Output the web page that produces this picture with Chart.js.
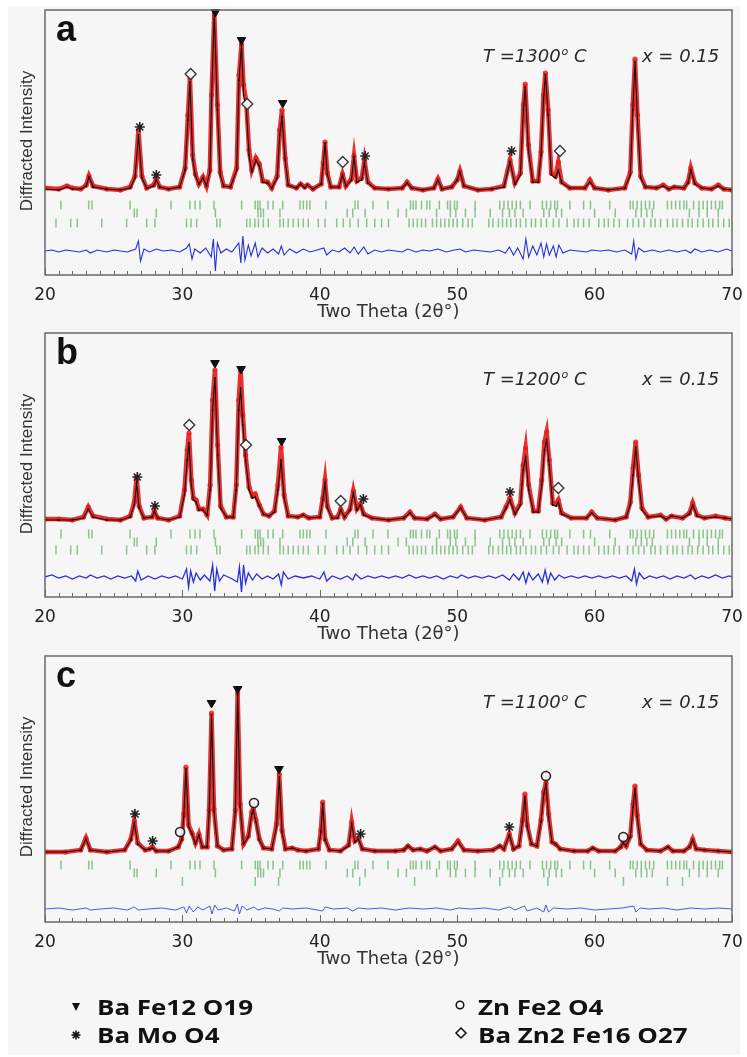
<!DOCTYPE html>
<html>
<head>
<meta charset="utf-8">
<script src="https://cdn.jsdelivr.net/npm/chart.js@4.4.1/dist/chart.umd.min.js"></script>
<style>
  body { margin: 0; background: #fff; width: 747px; height: 1057px; position: relative; overflow: hidden; }
  #bg { position: absolute; left: 8px; top: 6px; width: 732px; height: 1049px; background: #f6f6f6; }
  canvas { position: absolute; left: 0; }
</style>
</head>
<body>
<div id="bg"></div>
<canvas id="panelA" width="747" height="330" style="top:0px"></canvas>
<canvas id="panelB" width="747" height="330" style="top:322px"></canvas>
<canvas id="panelC" width="747" height="412" style="top:645px"></canvas>
<script>
// ---- panel a : T = 1300 C ----
const thetaA = [20.0,21.0,21.6,22.0,22.6,23.0,23.2,23.5,24.5,25.5,
  26.2,26.55,26.8,27.05,27.4,27.9,28.1,28.35,29.0,29.8,
  30.2,30.4,30.55,30.75,30.95,31.2,31.5,31.75,32.0,32.12,
  32.32,32.55,32.75,33.0,33.5,33.95,34.12,34.3,34.45,34.65,
  34.85,35.05,35.35,35.6,35.85,36.2,36.5,36.9,37.08,37.25,
  37.48,37.7,38.3,38.6,38.9,39.1,39.5,40.1,40.25,40.38,
  40.55,40.8,41.4,41.65,41.9,42.3,42.49,42.7,43.05,43.25,
  43.5,44.0,45.0,46.0,46.35,46.7,47.5,48.3,48.6,48.9,
  49.6,50.0,50.2,50.5,51.5,52.5,53.4,53.84,54.2,54.6,
  54.82,54.95,55.18,55.5,55.9,56.1,56.28,56.42,56.62,56.85,
  57.15,57.36,57.6,58.2,59.3,59.66,60.0,61.0,62.2,62.6,
  62.78,62.94,63.12,63.35,63.7,64.5,65.0,65.4,65.8,66.5,
  66.8,67.0,67.3,67.8,68.5,69.0,69.4,70.0];
const calcA = [1,0,3,1,1,4,13,3,1,0,
  2,12,55,12,2,4,10,3,1,3,
  20,70,108,30,14,6,12,4,18,90,
  177,80,15,4,3,20,110,145,95,82,
  35,18,30,24,8,7,2,12,55,73,
  30,5,2,6,2,5,1,6,25,47,
  15,3,3,15,4,10,33,8,10,27,
  7,2,1,2,7,2,0,2,10,1,
  3,10,18,4,0,1,3,28,6,15,
  80,103,40,8,8,35,90,115,75,15,
  12,20,7,2,2,8,2,0,2,15,
  80,128,70,12,3,2,4,1,3,2,
  7,20,6,2,1,4,1,0];
const obsA = [2,1,4,2,1,5,14,4,1,0,
  3,14,60,14,2,5,11,3,1,3,
  22,75,112,35,16,6,13,4,20,95,
  176,85,18,4,3,22,115,146,105,88,
  40,20,32,26,9,8,2,14,60,80,
  32,5,2,6,3,5,1,6,27,48,
  17,3,3,16,4,11,34,9,12,30,
  8,2,1,2,8,2,0,2,11,1,
  3,10,19,4,0,1,4,30,7,17,
  85,106,45,9,9,38,95,117,80,17,
  14,28,8,2,2,10,2,0,2,18,
  85,131,75,14,3,2,5,1,3,2,
  8,22,7,2,1,5,1,0];
const diffA = [[20,0],[20.5,1],[21,-1],[21.5,1],[22,0],[22.5,-1],[23,1],[23.3,-2],[23.8,1],[24.5,-1],[25,1],[25.5,0],[26,-1],
  [26.6,2],[26.8,10],[26.95,-10],[27.2,2],[27.6,-1],[28.1,2],[28.6,0],[29.2,1],[29.8,-1],[30.3,3],[30.5,7],[30.7,-8],[30.9,2],
  [31.3,-2],[31.7,3],[32.1,-6],[32.25,12],[32.4,-20],[32.55,8],[32.8,-2],[33.2,2],[33.6,-1],[34.1,8],[34.25,-12],[34.4,15],
  [34.55,-9],[34.8,6],[35.0,-5],[35.3,8],[35.5,-6],[35.8,3],[36.2,-2],[36.6,2],[37.0,-3],[37.2,5],[37.4,-4],[37.8,2],[38.3,-2],
  [38.8,2],[39.3,-1],[39.8,1],[40.3,3],[40.5,-4],[40.9,1],[41.4,-1],[41.8,3],[42.2,-2],[42.5,4],[42.8,-3],[43.2,4],[43.5,-3],
  [44,1],[44.5,-1],[45,1],[45.5,0],[46.0,-1],[46.4,2],[47,-1],[47.5,1],[48,0],[48.6,2],[49.2,-1],[49.8,1],[50.2,2],[50.6,-1],
  [51.2,1],[51.8,0],[52.4,-1],[53,1],[53.5,-2],[53.8,4],[54.1,-4],[54.4,3],[54.8,-8],[55.0,12],[55.2,-6],[55.5,5],[55.8,-4],
  [56.1,8],[56.3,-6],[56.5,7],[56.7,-4],[57.0,5],[57.2,-6],[57.4,6],[57.7,-2],[58.2,1],[58.8,0],[59.4,-1],[59.8,1],[60.4,0],
  [61,1],[61.6,-1],[62.2,1],[62.7,-3],[62.85,10],[63.0,-8],[63.2,3],[63.6,-1],[64.2,1],[64.8,-1],[65.4,1],[66,-1],[66.6,1],
  [67.0,-2],[67.3,2],[67.8,-1],[68.4,1],[69,-1],[69.6,2],[70,0]];
const hexPeaksA = [[32.4,178],[34.3,150],[37.3,87]];
const molyPeaksA = [[26.9,63],[28.1,15],[43.3,34],[53.96,39]];
const wPeaksA = [[30.6,116],[34.72,86],[41.67,28],[57.48,39]];

// ---- panel b : T = 1200 C ----
const thetaB = [20.0,21.0,22.0,22.8,23.15,23.5,24.5,25.5,26.2,26.5,
  26.67,26.85,27.2,27.8,27.96,28.2,29.0,29.8,30.15,30.35,
  30.48,30.65,30.8,31.0,31.2,31.5,31.8,32.02,32.2,32.37,
  32.57,32.78,33.2,33.7,33.92,34.1,34.24,34.4,34.6,34.85,
  35.1,35.3,35.6,35.9,36.3,36.7,36.95,37.18,37.4,37.7,
  38.4,38.8,39.2,40.0,40.22,40.38,40.55,40.9,41.3,41.52,
  41.8,42.2,42.44,42.7,42.95,43.2,43.8,45.0,46.1,46.56,
  46.9,47.8,48.38,48.8,49.7,50.25,50.7,52.0,53.2,53.55,
  53.84,54.2,54.6,54.8,54.98,55.2,55.55,55.9,56.15,56.35,
  56.51,56.7,56.95,57.2,57.36,57.6,58.3,59.4,59.79,60.2,
  61.5,62.3,62.6,62.8,62.99,63.2,63.45,63.9,64.8,65.2,
  65.6,66.4,66.9,67.14,67.45,68.0,68.8,69.5,70.0];
const calcB = [0,0,0,2,11,3,0,0,3,15,
  37,12,2,3,8,2,0,3,25,60,
  77,35,20,18,10,10,5,30,110,142,
  65,12,3,3,30,110,132,95,60,30,
  22,23,14,6,4,8,30,60,22,4,
  3,5,2,3,20,37,12,2,2,10,
  3,10,27,10,15,5,2,0,2,7,
  2,1,5,1,3,12,2,0,3,12,
  20,6,15,50,63,30,8,8,35,70,
  80,55,15,14,18,6,2,2,7,2,
  0,3,15,45,73,40,10,3,4,1,
  4,2,6,15,4,2,3,2,1];
const obsB = [1,1,0,3,13,4,1,0,4,18,
  43,14,2,3,9,2,0,4,30,70,
  87,40,22,20,11,11,5,35,120,150,
  75,14,3,3,35,120,150,105,65,33,
  24,26,15,6,4,9,35,73,25,4,
  3,5,2,3,22,40,14,2,3,11,
  3,11,29,11,16,6,2,0,2,8,
  2,1,6,1,3,13,2,0,3,13,
  22,7,17,55,72,35,9,9,40,78,
  88,60,17,16,20,7,2,2,8,2,
  0,3,18,52,78,45,12,3,5,1,
  4,2,7,17,5,2,4,2,1];
const diffB = [[20,0],[20.5,2],[21,-1],[21.5,1],[22,-2],[22.5,1],[23,-1],[23.3,2],[23.8,-1],[24.3,1],[24.8,-2],[25.3,1],[25.8,-1],
  [26.3,1],[26.6,-4],[26.75,6],[27,-3],[27.5,1],[28,-2],[28.5,1],[29,-1],[29.5,1],[30,-2],[30.3,8],[30.45,-10],[30.6,6],[30.8,-5],
  [31,4],[31.3,-3],[31.6,2],[32,-4],[32.2,12],[32.35,-14],[32.5,8],[32.7,-4],[33,2],[33.5,-1],[34,-5],[34.15,10],[34.3,-15],
  [34.45,12],[34.6,-6],[34.8,4],[35.1,-3],[35.4,3],[35.8,-2],[36.2,1],[36.6,-2],[37,3],[37.2,-8],[37.35,5],[37.7,-2],[38.2,1],
  [38.8,-1],[39.4,1],[40,-2],[40.3,5],[40.5,-4],[40.9,1],[41.5,-2],[42,1],[42.4,-3],[42.6,3],[43,-2],[43.5,1],[44,-1],[44.5,1],
  [45,-1],[45.5,1],[46,-1],[46.5,2],[47,-1],[47.5,1],[48,-1],[48.5,1],[49,-2],[49.5,1],[50,-1],[50.3,2],[50.8,-1],[51.3,1],
  [51.8,-1],[52.3,1],[52.8,-1],[53.3,2],[53.8,-3],[54.1,3],[54.5,-3],[54.8,5],[55,-6],[55.2,4],[55.5,-3],[55.9,3],[56.2,-5],
  [56.4,7],[56.6,-6],[56.8,4],[57.1,-3],[57.4,2],[57.8,-1],[58.3,1],[58.8,-1],[59.3,1],[59.8,-1],[60.3,1],[60.8,-1],[61.3,1],
  [61.8,-1],[62.3,1],[62.7,-4],[62.9,8],[63.05,-7],[63.25,4],[63.6,-2],[64,1],[64.5,-1],[65,1],[65.5,-2],[66,1],[66.5,-1],
  [67,2],[67.3,-2],[67.8,1],[68.3,-1],[68.8,2],[69.3,-1],[69.8,1],[70,0]];
const hexPeaksB = [[32.37,157],[34.27,151],[37.22,79]];
const molyPeaksB = [[26.72,43],[28.0,14],[43.17,21],[53.84,28]];
const wPeaksB = [[30.5,95],[34.63,75],[41.52,19],[57.36,32]];

// ---- panel c : T = 1100 C ----
const thetaC = [20.0,21.5,22.6,22.98,23.3,24.5,25.8,26.25,26.5,26.75,
  27.3,27.6,27.81,28.1,29.0,29.7,29.95,30.1,30.26,30.45,
  30.7,30.95,31.2,31.45,31.8,31.95,32.12,32.3,32.55,33.0,
  33.6,33.85,34.02,34.2,34.45,34.8,35.05,35.16,35.35,35.6,
  35.9,36.5,36.85,37.05,37.25,37.5,38.0,38.4,39.0,39.9,
  40.08,40.21,40.38,40.7,41.5,42.1,42.32,42.55,42.8,43.1,
  44.0,45.5,46.1,46.42,46.8,47.3,47.8,48.38,48.8,49.6,
  50.06,50.5,51.5,52.6,53.1,53.4,53.79,54.1,54.5,54.75,
  54.93,55.1,55.4,55.8,56.1,56.3,56.46,56.65,56.9,57.15,
  57.5,58.5,59.5,59.86,60.3,61.5,61.9,62.09,62.3,62.6,
  62.8,62.94,63.1,63.35,63.8,64.8,65.34,65.7,66.5,66.9,
  67.14,67.4,68.0,69.0,70.0];
const calcC = [0,0,2,13,2,0,2,12,29,8,
  2,3,4,1,1,5,12,35,83,25,
  18,8,17,5,5,40,137,40,6,2,
  3,40,157,45,8,15,38,42,30,12,
  4,3,25,75,20,3,4,2,1,3,
  20,48,12,2,1,6,28,10,13,3,
  1,1,2,6,2,3,1,5,1,3,
  10,2,1,2,6,3,17,3,6,30,
  55,25,8,6,30,58,68,35,10,8,
  3,1,1,4,1,1,5,9,6,15,
  45,63,35,8,2,1,5,1,1,5,
  12,3,2,1,0];
const obsC = [0,0,2,14,2,0,2,13,31,9,
  2,3,5,1,1,5,13,38,85,27,
  19,9,18,5,5,42,139,43,6,2,
  3,42,159,48,8,16,40,44,32,13,
  4,3,28,78,22,3,4,2,1,3,
  22,50,13,2,1,7,30,11,14,3,
  1,1,2,6,2,3,1,5,1,3,
  11,2,1,2,6,3,18,3,6,32,
  58,27,8,6,32,60,69,38,10,8,
  3,1,1,4,1,1,5,10,6,16,
  48,66,37,8,2,1,5,1,1,5,
  13,3,2,1,0];
const diffC = [[20,0],[21,1],[22,-1],[23,1],[23.3,-1],[24,0],[25,1],[26,-1],[26.5,2],[26.8,-1],[27.5,0],[28.5,1],[29.5,-1],
  [30.1,2],[30.3,-4],[30.5,3],[30.8,-3],[31.1,2],[31.5,-1],[32,3],[32.15,-5],[32.35,4],[32.6,-1],[33.2,1],[33.8,-2],[34.0,5],
  [34.15,-5],[34.35,3],[34.7,-1],[35.2,2],[35.5,-1],[36,1],[36.6,0],[37.05,-2],[37.3,1],[38,0],[39,1],[40.2,-2],[40.4,2],
  [41,0],[42,1],[42.4,-2],[42.8,1],[43.5,0],[44.5,1],[45.5,-1],[46.5,1],[47.5,0],[48.5,1],[49.5,-1],[50.1,1],[51,0],[52,1],
  [53,-1],[53.8,2],[54.2,-1],[54.9,3],[55.1,-2],[55.8,1],[56.3,-3],[56.45,4],[56.65,-3],[57,1],[58,0],[59,1],[60,-1],[61,0],
  [62,1],[62.85,3],[63.0,-3],[63.3,1],[64,0],[65,1],[66,-1],[67,1],[68,0],[69,1],[70,0]];
const hexPeaksC = [[32.12,149],[34.02,163],[37.03,83]];
const molyPeaksC = [[26.55,38],[27.83,11],[42.97,18],[53.79,25]];
const spinelPeaksC = [[29.83,20],[35.21,49],[56.46,76],[62.09,15]];

// ---- reflection positions (green tick rows) ----
const hexTicks = [21.16,23.18,23.42,26.19,29.17,30.55,30.92,31.28,32.3,34.31,35.3,35.48,35.65,36.23,36.6,37.3,38.56,38.8,39.05,
  39.28,40.45,42.56,42.78,43.87,44.96,46.6,46.8,47.0,47.4,47.8,48.0,48.7,49.3,49.5,49.8,50.0,51.3,53.1,53.4,53.7,54.0,54.3,
  54.6,55.3,56.2,56.5,56.8,57.1,57.3,58.2,59.2,59.7,61.1,62.6,62.8,63.1,63.4,63.7,64.0,64.3,65.3,65.6,65.9,66.2,66.5,66.7,
  67.2,67.6,67.9,68.2,68.5,68.8,69.1,69.3];
const molyTicks = [26.5,26.7,28.1,32.4,35.5,35.7,35.9,37.1,42.0,42.4,43.3,45.7,46.3,48.5,49.5,49.9,50.6,51.3,52.4,53.3,53.8,
  54.2,54.8,56.3,56.7,57.2,57.6,60.0,61.5,63.0,63.4,63.8,64.2,66.9,67.6,68.2,69.0];
const wTicks = [20.8,21.87,22.35,24.13,25.94,27.4,28.0,30.3,30.63,31.04,32.5,32.74,34.68,34.92,35.28,35.53,35.89,36.25,37.1,
  37.35,37.7,38.07,38.44,38.8,39.16,39.89,40.38,41.23,41.71,42.2,42.8,43.41,44.0,44.5,45.0,46.5,46.8,47.1,47.4,47.7,48.2,
  48.5,48.8,49.1,49.4,49.7,50.0,50.4,50.8,51.1,52.3,52.6,53.0,53.3,53.6,53.9,54.3,54.6,55.0,55.4,55.7,56.1,56.5,57.0,57.4,
  58.0,58.5,58.8,59.2,59.6,60.3,60.7,61.0,61.4,61.8,62.4,62.8,63.2,63.6,64.1,64.4,64.8,65.3,65.7,66.0,66.4,66.8,67.1,67.5,
  67.9,68.3,68.6,69.0,69.4,69.8];
const spinelTicks = [30.0,35.3,37.0,42.9,46.9,53.1,56.6,62.1,65.3,66.4];

const xTickLabels = [20, 30, 40, 50, 60, 70];

// ---------------------------------------------------------------
const series = (theta, vals) => theta.map((t, i) => ({ x: t, y: vals[i] }));
const pairs = (list, off = 0) => list.map(p => ({ x: p[0], y: p[1] + off }));
const row = (ticks, y) => ticks.map(t => ({ x: t, y: y }));

const frame = {
  id: 'frame',
  afterDraw(chart) {
    const { ctx, chartArea: a, scales: { x } } = chart;
    ctx.save();
    ctx.strokeStyle = '#6a6a6a';
    ctx.lineWidth = 1.5;
    ctx.strokeRect(a.left, a.top, a.right - a.left, a.bottom - a.top);
    ctx.lineWidth = 1;
    for (let t = 20; t <= 70; t++) {
      const px = Math.round(x.getPixelForValue(t)) + 0.5;
      const len = t % 10 === 0 ? 7 : 4;
      ctx.beginPath();
      ctx.moveTo(px, a.bottom);
      ctx.lineTo(px, a.bottom - len);
      ctx.stroke();
    }
    ctx.restore();
  }
};

const panelText = {
  id: 'panelText',
  afterDraw(chart, args, opts) {
    const { ctx, chartArea: a } = chart;
    ctx.save();
    ctx.fillStyle = '#111';
    ctx.font = 'bold 36px "Liberation Sans", Arial, sans-serif';
    ctx.fillText(opts.letter, 56, a.top + 31);
    // temperature and composition
    ctx.fillStyle = '#2a2a2a';
    ctx.font = 'oblique 18px "DejaVu Sans"';
    const y = a.top + 52;
    let x = 483;
    ctx.fillText('T =' + opts.temp, x, y);
    x += ctx.measureText('T =' + opts.temp).width + 1;
    ctx.font = 'oblique 11px "DejaVu Sans"';
    ctx.fillText('o', x, y - 7);
    x += ctx.measureText('o').width;
    ctx.font = 'oblique 18px "DejaVu Sans"';
    ctx.fillText(' C', x, y);
    ctx.fillText('x = 0.15', 642, y);
    // y axis label
    ctx.translate(27, a.top + 131);
    ctx.rotate(-Math.PI / 2);
    ctx.textAlign = 'center';
    ctx.textBaseline = 'middle';
    ctx.fillStyle = '#333';
    ctx.font = '17px "Liberation Sans", Arial, sans-serif';
    ctx.fillText('Diffracted Intensity', 0, 0);
    ctx.restore();
  }
};

const phaseLegend = {
  id: 'phaseLegend',
  afterDraw(chart, args, opts) {
    if (!opts.show) return;
    const ctx = chart.ctx;
    ctx.save();
    ctx.fillStyle = '#111';
    ctx.strokeStyle = '#111';
    // symbols
    ctx.beginPath();
    ctx.moveTo(72, 358); ctx.lineTo(80, 358); ctx.lineTo(76, 366); ctx.closePath(); ctx.fill();
    ctx.lineWidth = 1.6;
    for (let k = 0; k < 4; k++) {
      const ang = k * Math.PI / 4;
      ctx.beginPath();
      ctx.moveTo(76 - 4.5 * Math.cos(ang), 390 - 4.5 * Math.sin(ang));
      ctx.lineTo(76 + 4.5 * Math.cos(ang), 390 + 4.5 * Math.sin(ang));
      ctx.stroke();
    }
    ctx.lineWidth = 1.5;
    ctx.beginPath(); ctx.arc(460, 360, 3.8, 0, Math.PI * 2); ctx.stroke();
    ctx.beginPath();
    ctx.moveTo(461, 383); ctx.lineTo(466, 388); ctx.lineTo(461, 393); ctx.lineTo(456, 388); ctx.closePath(); ctx.stroke();
    // labels
    ctx.font = 'bold 21px "Open Sans", sans-serif';
    const s = 156 / ctx.measureText('Ba Fe12 O19').width;
    const put = (t, px, py) => { ctx.save(); ctx.translate(px, py); ctx.scale(s, 1); ctx.fillText(t, 0, 0); ctx.restore(); };
    put('Ba Fe12 O19', 97, 370);
    put('Ba Mo O4', 97, 398);
    put('Zn Fe2 O4', 478, 370);
    put('Ba Zn2 Fe16 O27', 478, 398);
    ctx.restore();
  }
};

function makePanel(id, p) {
  const marks = [];
  const markBase = { showLine: false, clip: false, order: 0, pointHoverRadius: 0 };
  if (p.hex) marks.push({ ...markBase, data: pairs(p.hex), pointStyle: 'triangle', pointRotation: 180, pointRadius: 5,
    pointBackgroundColor: '#111', pointBorderColor: '#111', pointBorderWidth: 1 });
  if (p.moly) marks.push({ ...markBase, data: pairs(p.moly), pointStyle: 'star', pointRadius: 5,
    pointBackgroundColor: '#222', pointBorderColor: '#222', pointBorderWidth: 1.6 });
  if (p.w) marks.push({ ...markBase, data: pairs(p.w), pointStyle: 'rectRot', pointRadius: 5.5,
    pointBackgroundColor: '#f6f6f6', pointBorderColor: '#333', pointBorderWidth: 1.3 });
  if (p.spinel) marks.push({ ...markBase, data: pairs(p.spinel), pointStyle: 'circle', pointRadius: 4.5,
    pointBackgroundColor: 'rgba(246,246,246,0.9)', pointBorderColor: '#222', pointBorderWidth: 1.6 });

  const tickSets = p.rows.map(r => ({
    data: row(r.ticks, r.y), showLine: false, order: 4, pointStyle: 'line', pointRotation: 90,
    pointRadius: 4.5, pointBorderColor: 'rgba(70,160,70,0.6)', pointBorderWidth: 1.5, pointHoverRadius: 0
  }));

  new Chart(document.getElementById(id), {
    type: 'line',
    data: {
      datasets: [
        ...marks,
        { data: series(p.theta, p.calc), borderColor: '#111', borderWidth: 1.1, pointRadius: 0.9,
          pointBackgroundColor: '#111', pointBorderWidth: 0, order: 1, tension: 0 },
        { data: series(p.theta, p.obs), borderColor: 'rgba(226,28,26,0.9)', borderWidth: 4.5, pointRadius: 2.6,
          pointBackgroundColor: 'rgba(236,30,28,0.85)', pointBorderWidth: 0, order: 2, tension: 0 },
        ...tickSets,
        { data: pairs(p.diff, p.diffY), borderColor: '#2630d8', borderWidth: p.diffW, pointRadius: 0, order: 3 }
      ]
    },
    options: {
      responsive: false,
      animation: false,
      devicePixelRatio: 1,
      events: [],
      layout: { padding: { left: 45, right: 15, top: p.padTop, bottom: p.padBottom } },
      plugins: {
        legend: { display: false },
        tooltip: { enabled: false },
        panelText: { letter: p.letter, temp: p.temp },
        phaseLegend: { show: !!p.legend }
      },
      scales: {
        x: {
          type: 'linear', min: 20, max: 70,
          afterFit: (scale) => { scale.height = 55; },
          afterBuildTicks: (scale) => { scale.ticks = xTickLabels.map(v => ({ value: v })); },
          grid: { display: false },
          border: { display: false },
          ticks: { font: { family: 'DejaVu Sans', size: 17 }, color: '#222', padding: 2, maxRotation: 0, autoSkip: false },
          title: { display: true, text: 'Two Theta (2θ°)', color: '#333',
            font: { family: 'DejaVu Sans', size: 18 }, padding: { top: 0, bottom: 7 } }
        },
        y: { display: false, min: p.yMin, max: p.yMax }
      }
    },
    plugins: [frame, panelText, phaseLegend]
  });
}

makePanel('panelA', {
  letter: 'a', temp: '1300', theta: thetaA, calc: calcA, obs: obsA, diff: diffA, diffY: -61, diffW: 1.1,
  hex: hexPeaksA, moly: molyPeaksA, w: wPeaksA, yMin: -85, yMax: 180, padTop: 10, padBottom: 0,
  rows: [{ ticks: hexTicks, y: -15 }, { ticks: molyTicks, y: -23 }, { ticks: wTicks, y: -33 }]
});
makePanel('panelB', {
  letter: 'b', temp: '1200', theta: thetaB, calc: calcB, obs: obsB, diff: diffB, diffY: -57, diffW: 1.3,
  hex: hexPeaksB, moly: molyPeaksB, w: wPeaksB, yMin: -77, yMax: 187, padTop: 11, padBottom: 0,
  rows: [{ ticks: hexTicks, y: -14 }, { ticks: molyTicks, y: -22 }, { ticks: wTicks, y: -30 }]
});
makePanel('panelC', {
  letter: 'c', temp: '1100', theta: thetaC, calc: calcC, obs: obsC, diff: diffC, diffY: -57, diffW: 0.8,
  hex: hexPeaksC, moly: molyPeaksC, spinel: spinelPeaksC, yMin: -70, yMax: 196, padTop: 11, padBottom: 80,
  legend: true,
  rows: [{ ticks: hexTicks, y: -13 }, { ticks: molyTicks, y: -21 }, { ticks: spinelTicks, y: -29.5 }]
});
</script>
</body>
</html>
